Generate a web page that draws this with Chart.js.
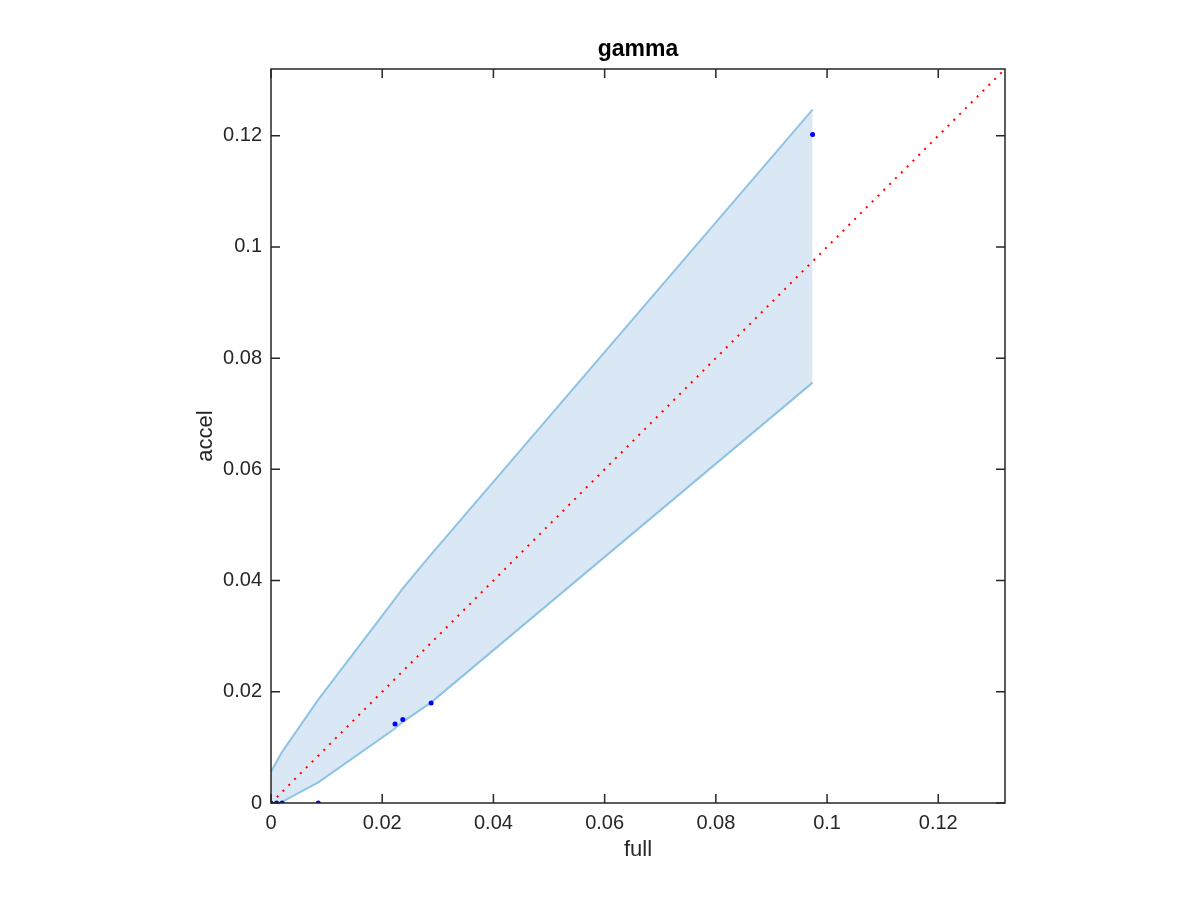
<!DOCTYPE html>
<html>
<head>
<meta charset="utf-8">
<script src="https://cdn.jsdelivr.net/npm/chart.js@4.4.1/dist/chart.umd.min.js"></script>
<style>
html,body{margin:0;padding:0;background:#fff;}
#wrap{width:1200px;height:900px;}
</style>
</head>
<body>
<div id="wrap"><canvas id="c" width="1200" height="900"></canvas></div>
<script>
const titleText = "gamma";
const xLabel = "full";
const yLabel = "accel";
const axisMin = 0;
const axisMax = 0.132;
const tickValues = [0, 0.02, 0.04, 0.06, 0.08, 0.1, 0.12];
const tickLabels = ["0", "0.02", "0.04", "0.06", "0.08", "0.1", "0.12"];

const pointX = [0, 0.001, 0.002, 0.0085, 0.0223, 0.0237, 0.0288, 0.0974];
const pointY = [0, 0, 0, 0, 0.0142, 0.015, 0.018, 0.1202];

const bandX = [0, 0.001, 0.002, 0.0085, 0.0223, 0.0237, 0.0288, 0.0974];
const bandUpper = [0.0056, 0.0074, 0.0092, 0.0186, 0.0367, 0.0386, 0.0447, 0.1247];
const bandLower = [0, 0, 0.0002, 0.0037, 0.0134, 0.0146, 0.0181, 0.0756];

const diagX = [0, 0.132];
const diagY = [0, 0.132];

const FONT = '"Liberation Sans", Helvetica, Arial, sans-serif';
const INK = '#262626';

const toPts = (xs, ys) => xs.map((x, i) => ({x: x, y: ys[i]}));

const framePlugin = {
  id: 'frame',
  afterDraw(chart) {
    const ctx = chart.ctx;
    const a = chart.chartArea;
    const sx = chart.scales.x, sy = chart.scales.y;
    const tl = 9;
    ctx.save();
    ctx.strokeStyle = INK;
    ctx.lineWidth = 1.5;
    ctx.beginPath();
    tickValues.forEach(v => {
      const px = sx.getPixelForValue(v);
      ctx.moveTo(px, a.bottom); ctx.lineTo(px, a.bottom - tl);
      ctx.moveTo(px, a.top); ctx.lineTo(px, a.top + tl);
      const py = sy.getPixelForValue(v);
      ctx.moveTo(a.left, py); ctx.lineTo(a.left + tl, py);
      ctx.moveTo(a.right, py); ctx.lineTo(a.right - tl, py);
    });
    ctx.stroke();
    ctx.strokeRect(a.left, a.top, a.right - a.left, a.bottom - a.top);
    ctx.restore();
  }
};

new Chart(document.getElementById('c'), {
  type: 'scatter',
  data: {
    datasets: [
      {
        label: 'upper',
        type: 'line',
        data: toPts(bandX, bandUpper),
        borderColor: '#8fc3e4',
        borderWidth: 2,
        pointRadius: 0,
        fill: false,
        tension: 0,
        order: 3
      },
      {
        label: 'lower',
        type: 'line',
        data: toPts(bandX, bandLower),
        borderColor: '#8fc3e4',
        borderWidth: 2,
        pointRadius: 0,
        backgroundColor: '#d9e8f4',
        fill: '-1',
        tension: 0,
        order: 2
      },
      {
        label: 'diag',
        type: 'line',
        data: toPts(diagX, diagY),
        borderColor: '#ff0000',
        borderWidth: 2,
        borderDash: [2, 6.25],
        pointRadius: 0,
        fill: false,
        order: 1
      },
      {
        label: 'points',
        data: toPts(pointX, pointY),
        backgroundColor: '#0000ff',
        borderColor: '#0000ff',
        pointRadius: 2.5,
        borderWidth: 0,
        order: 0
      }
    ]
  },
  options: {
    responsive: false,
    animation: false,
    layout: { padding: { left: 193, right: 195, top: 0, bottom: 37 } },
    plugins: {
      legend: { display: false },
      tooltip: { enabled: false },
      filler: { drawTime: 'beforeDatasetsDraw' },
      title: {
        display: true,
        fullSize: false,
        text: titleText,
        color: '#000',
        font: { family: FONT, size: 23, weight: 'bold', lineHeight: 1.2 },
        padding: { top: 36, bottom: 5.4 }
      }
    },
    scales: {
      x: {
        type: 'linear',
        min: axisMin, max: axisMax,
        afterBuildTicks: s => { s.ticks = tickValues.map(v => ({value: v})); },
        afterFit: s => { s.height = 60; },
        grid: { display: false, drawTicks: false },
        border: { display: false },
        ticks: {
          color: INK,
          font: { family: FONT, size: 20 },
          padding: 8,
          maxRotation: 0,
          autoSkip: false,
          callback: (v, i) => tickLabels[tickValues.indexOf(v)] ?? ''
        },
        title: {
          display: true, text: xLabel, color: INK,
          font: { family: FONT, size: 22, lineHeight: 1.2 },
          padding: 0
        }
      },
      y: {
        type: 'linear',
        min: axisMin, max: axisMax,
        afterBuildTicks: s => { s.ticks = tickValues.map(v => ({value: v})); },
        afterFit: s => { s.width = 78; },
        grid: { display: false, drawTicks: false },
        border: { display: false },
        ticks: {
          color: INK,
          font: { family: FONT, size: 20 },
          padding: 9,
          autoSkip: false,
          callback: (v, i) => tickLabels[tickValues.indexOf(v)] ?? ''
        },
        title: {
          display: true, text: yLabel, color: INK,
          font: { family: FONT, size: 22, lineHeight: 1.2 },
          padding: 0
        }
      }
    }
  },
  plugins: [framePlugin]
});
</script>
</body>
</html>
